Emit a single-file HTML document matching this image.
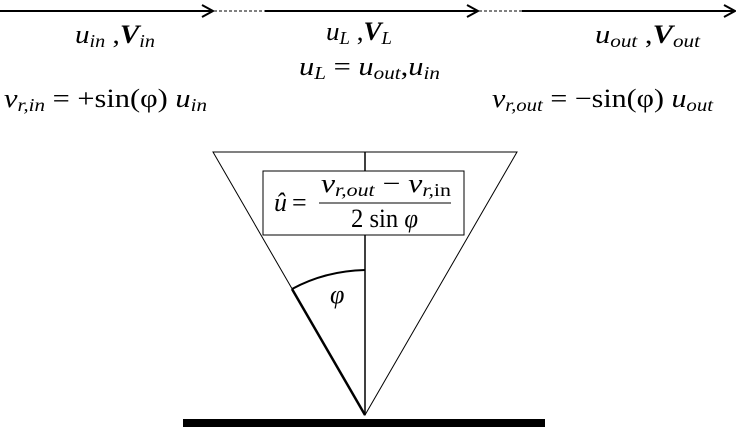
<!DOCTYPE html>
<html><head><meta charset="utf-8"><style>
html,body{margin:0;padding:0;background:#fff;}
svg{display:block;}
text{font-family:"Liberation Serif",serif;fill:#000;}
.i{font-style:italic;}
</style></head><body>
<svg width="736" height="432" viewBox="0 0 736 432" xmlns="http://www.w3.org/2000/svg">
<g stroke="#000" fill="none">
<line x1="0" y1="11" x2="212" y2="11" stroke-width="2"/>
<polyline points="202,5 213,11 202,17" stroke-width="2"/>
<line x1="214" y1="11" x2="265" y2="11" stroke-width="1" stroke-dasharray="3,2"/>
<line x1="265" y1="11" x2="477" y2="11" stroke-width="2"/>
<polyline points="467,5 478,11 467,17" stroke-width="2"/>
<line x1="479" y1="11" x2="522" y2="11" stroke-width="1" stroke-dasharray="3,2"/>
<line x1="522" y1="11" x2="734" y2="11" stroke-width="2"/>
<polyline points="724,5 735,11 724,17" stroke-width="2"/>
<polygon points="213,152 517,152 365,415" stroke-width="1"/>
<line x1="365" y1="152" x2="365" y2="415" stroke-width="1.5"/>
<line x1="292" y1="289" x2="365" y2="415" stroke-width="2.5"/>
<path d="M292,289 Q325,271 365,270" stroke-width="2"/>
<rect x="263" y="171" width="201" height="64" fill="#fff" stroke-width="1"/>
</g>
<rect x="183" y="419" width="362" height="8" fill="#000"/>
<text x="75" y="43" font-size="26" textLength="80" lengthAdjust="spacingAndGlyphs"><tspan class="i">u</tspan><tspan class="i" font-size="18" dy="4">in</tspan><tspan dy="-4"> ,</tspan><tspan font-weight="bold" class="i">V</tspan><tspan class="i" font-size="18" dy="4">in</tspan></text>
<text x="326" y="40" font-size="26" textLength="66" lengthAdjust="spacingAndGlyphs"><tspan class="i">u</tspan><tspan class="i" font-size="18" dy="4">L</tspan><tspan dy="-4"> ,</tspan><tspan font-weight="bold" class="i">V</tspan><tspan class="i" font-size="18" dy="4">L</tspan></text>
<text x="595" y="43" font-size="26" textLength="105" lengthAdjust="spacingAndGlyphs"><tspan class="i">u</tspan><tspan class="i" font-size="18" dy="4">out</tspan><tspan dy="-4"> ,</tspan><tspan font-weight="bold" class="i">V</tspan><tspan class="i" font-size="18" dy="4">out</tspan></text>
<text x="299" y="75" font-size="26" textLength="141" lengthAdjust="spacingAndGlyphs"><tspan class="i">u</tspan><tspan class="i" font-size="18" dy="4">L</tspan><tspan dy="-4"> = </tspan><tspan class="i">u</tspan><tspan class="i" font-size="18" dy="4">out</tspan><tspan dy="-4">,</tspan><tspan class="i">u</tspan><tspan class="i" font-size="18" dy="4">in</tspan></text>
<text x="4" y="107" font-size="26" textLength="203" lengthAdjust="spacingAndGlyphs"><tspan class="i">v</tspan><tspan class="i" font-size="18" dy="4">r,in</tspan><tspan dy="-4"> =  +sin(φ) </tspan><tspan class="i">u</tspan><tspan class="i" font-size="18" dy="4">in</tspan></text>
<text x="492" y="107" font-size="26" textLength="221" lengthAdjust="spacingAndGlyphs"><tspan class="i">v</tspan><tspan class="i" font-size="18" dy="4">r,out</tspan><tspan dy="-4"> = −sin(φ) </tspan><tspan class="i">u</tspan><tspan class="i" font-size="18" dy="4">out</tspan></text>
<text x="274" y="211" font-size="26" class="i">û</text>
<text x="292" y="211" font-size="26">=</text>
<text x="321" y="192" font-size="26" textLength="130" lengthAdjust="spacingAndGlyphs"><tspan class="i">v</tspan><tspan class="i" font-size="18" dy="4">r,out</tspan><tspan dy="-4"> − </tspan><tspan class="i">v</tspan><tspan font-size="18" dy="4"><tspan class="i">r,</tspan>in</tspan></text>
<line x1="319" y1="203" x2="451" y2="203" stroke="#000" stroke-width="1"/>
<text x="351" y="227" font-size="26" textLength="67" lengthAdjust="spacingAndGlyphs">2 sin <tspan class="i">φ</tspan></text>
<text x="330" y="303" font-size="26" class="i">φ</text>
</svg>
</body></html>
